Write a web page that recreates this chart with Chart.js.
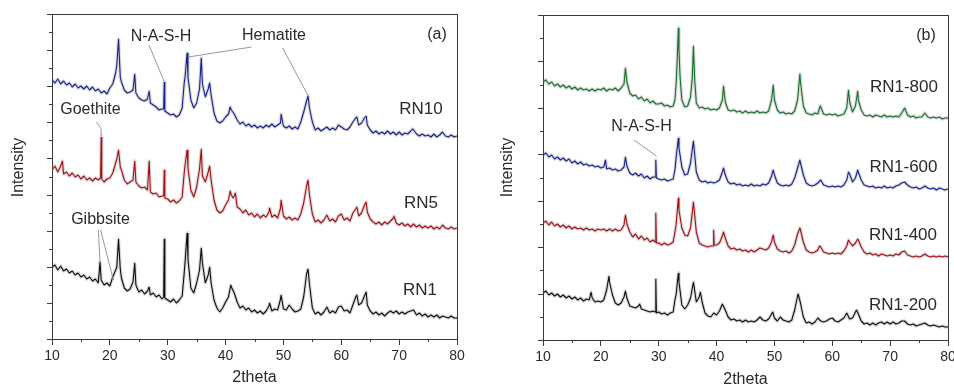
<!DOCTYPE html>
<html><head><meta charset="utf-8">
<script src="https://cdn.jsdelivr.net/npm/chart.js@4.4.1/dist/chart.umd.min.js"></script>
<style>
html,body{margin:0;padding:0;background:#fff;}
#wrap{position:relative;width:954px;height:389px;overflow:hidden;background:#fff;}
.box{position:absolute;top:0;width:477px;height:389px;}
#ba{left:0;} #bb{left:477px;}
</style></head><body>
<div id="wrap"><div class="box" id="ba"><canvas id="ca" width="477" height="389"></canvas></div><div class="box" id="bb"><canvas id="cb" width="477" height="389"></canvas></div></div>
<script>
// ---------- shared axis data ----------
const X_START = 10, X_STEP = 0.5;          // sampling grid of the base arrays (2theta)
const xTicks = [10, 20, 30, 40, 50, 60, 70, 80];
const xTickLabels = ['10', '20', '30', '40', '50', '60', '70', '80'];
const xMinorTicks = [15, 25, 35, 45, 55, 65, 75];

// ---------- panel (a) : intensity (a.u., stacked) ----------
const rn10Base = [
259,256,260,255,258,254,256,252,255,251,253,250,253,249,252,248,250,246,248,245,
251,255,266,270,257,249,246,247,249,246,241,239,238,240,236,234,232,229,230,228,
226,224,225,222,224,231,262,262,239,231,236,250,255,242,250,244,226,218,216,218,
222,225,229,225,219,215,217,213,215,212,214,211,213,211,214,212,215,212,214,216,
213,211,213,210,212,210,217,227,238,231,217,209,211,208,210,212,209,211,209,214,
212,210,209,212,217,221,214,216,221,214,209,206,208,205,207,205,208,205,207,204,
207,204,206,205,208,209,205,203,205,203,204,202,205,202,204,207,203,202,204,202,
203];
const rn10Peaks = [[21.2,274],[21.5,300],[21.8,262],[24.3,265],[26.8,248],[29.3,230],[29.4,257],[32.85,256],[33.35,286],[35.8,281],[37.25,256],[40.8,232],[49.6,225],[54.25,243],[62.7,222],[64.3,223],[72.3,210]];

const rn5Base = [
169,173,167,173,165,167,163,166,162,164,160,163,159,161,158,161,159,159,157,160,
161,166,176,181,169,159,155,157,159,157,153,151,152,149,147,145,146,142,143,141,
140,137,139,136,138,142,174,171,149,142,152,170,163,157,167,159,139,129,126,128,
134,139,144,143,132,130,126,129,124,126,122,125,121,124,122,127,122,124,121,131,
123,120,122,119,121,119,125,136,153,144,125,117,119,116,119,124,118,120,117,123,
125,119,121,118,126,130,123,126,134,127,120,117,115,117,114,117,115,118,121,116,
114,116,113,115,112,115,112,114,111,113,111,113,110,112,110,114,111,110,112,110,
111];
const rn5Peaks = [[11.8,178],[18.4,161],[18.5,202],[18.6,160],[21.2,180],[21.5,189],[21.8,172],[24.3,178],[26.8,178],[29.3,143],[29.4,169],[32.85,166],[33.35,189],[35.8,190],[37.25,173],[40.8,148],[41.3,141],[41.7,146],[47.6,131],[49.6,139],[54.25,159],[62.7,132],[64.3,137],[69.1,123]];

const rn1Base = [
72,74,69,73,68,70,66,68,64,66,62,64,60,62,58,60,56,59,54,56,
53,62,69,84,61,51,48,50,57,54,47,49,45,48,44,46,42,44,40,41,
39,37,40,36,39,43,77,80,51,46,56,69,76,56,64,56,39,31,27,31,
37,42,52,46,37,31,33,29,31,27,29,26,28,25,28,33,28,30,29,40,
30,29,34,30,27,28,30,42,65,55,31,25,27,24,27,32,26,28,26,32,
33,28,29,26,34,42,34,36,43,34,28,25,27,24,26,23,26,28,26,28,
25,27,25,27,28,29,24,26,23,25,22,24,22,24,21,23,22,21,23,21,
21];
const rn1Peaks = [[18.3,77],[21.2,72],[21.5,100],[21.8,70],[24.3,76],[26.8,52],[29.3,42],[29.4,100],[32.85,66],[33.35,106],[35.8,91],[37.25,72],[40.9,54],[47.6,36],[49.6,44],[54.25,70],[62.7,44],[64.3,47]];

// ---------- panel (b) ----------
const rn800Base = [
258,260,256,258,254,256,253,255,252,254,251,253,250,252,250,251,249,251,249,251,
250,252,249,251,250,252,249,252,256,258,247,244,245,241,243,239,241,237,239,236,
236,237,234,235,233,234,255,290,240,233,234,243,270,237,232,233,231,232,230,231,
230,232,240,238,230,229,230,228,229,227,229,227,228,227,229,227,228,227,229,240,
240,230,227,228,226,227,226,229,240,258,234,227,226,225,227,226,233,226,225,226,
225,226,224,225,226,232,238,228,234,240,230,225,224,225,223,225,224,223,225,223,
224,223,224,223,227,232,225,223,224,222,223,223,227,223,222,223,222,223,221,222,
222];
const rn800Peaks = [[24.25,272],[32.8,240],[33.2,280],[33.4,312],[33.7,262],[35.8,262],[36.0,294],[36.2,262],[41.2,254],[49.8,255],[54.4,266],[57.9,234],[62.8,250],[64.4,249]];

const rn600Base = [
185,187,183,185,181,183,180,182,179,181,177,179,176,178,175,176,174,175,173,174,
172,173,171,172,170,171,169,170,173,174,167,165,167,164,166,162,164,161,163,166,
161,160,161,159,160,161,182,192,173,165,166,177,195,168,160,158,159,157,158,157,
158,160,168,165,158,156,157,155,156,154,155,154,156,154,155,154,156,155,157,164,
165,157,155,154,155,154,156,162,172,177,165,157,155,154,155,157,160,155,154,153,
154,153,154,153,155,160,166,158,162,168,160,155,154,153,154,152,153,152,154,152,
153,152,154,155,157,158,155,153,152,153,151,152,154,152,151,152,150,152,151,150,
151];
const rn600Peaks = [[20.8,180],[24.25,183],[29.4,163],[29.5,180],[29.6,162],[32.8,170],[33.4,202],[36.0,199],[41.2,172],[49.8,170],[54.4,180],[62.8,168],[64.4,170]];

const rn400Base = [
117,119,115,118,114,116,113,115,112,114,111,113,111,112,110,112,110,111,109,111,
110,111,109,111,109,111,109,110,115,116,108,103,106,101,104,100,102,98,100,97,
97,95,97,95,96,98,115,130,112,105,104,112,132,108,97,95,94,93,94,95,
95,97,104,102,94,91,92,90,91,89,90,88,90,88,90,92,91,90,92,98,
98,91,89,88,89,87,89,95,106,110,98,90,88,87,88,90,93,88,87,86,
87,86,87,86,89,94,98,94,97,100,93,88,86,87,85,86,84,86,85,84,
85,84,86,85,88,89,85,84,83,84,83,84,86,84,83,84,83,84,83,84,
83];
const rn400Peaks = [[24.25,125],[29.4,98],[29.5,127],[29.6,97],[32.8,108],[33.4,142],[36.0,138],[39.4,94],[39.5,110],[39.6,95],[41.2,108],[49.8,105],[54.4,112],[57.8,94],[62.8,100],[64.4,101]];

const rn200Base = [
47,49,45,47,44,46,43,45,42,44,41,43,40,42,39,41,40,42,38,39,
38,40,50,58,45,37,35,37,43,42,34,33,32,34,31,30,29,28,29,27,
28,26,27,25,27,28,45,58,35,31,35,42,55,38,43,38,27,24,23,27,
25,29,36,30,23,20,21,19,20,18,20,18,19,18,20,23,20,19,21,26,
22,19,23,20,19,18,20,30,44,37,23,17,18,16,18,22,19,18,19,21,
22,19,18,20,22,27,21,22,28,26,19,16,17,15,17,15,17,18,16,18,
16,18,16,17,19,19,16,15,16,14,15,16,17,15,14,15,14,13,14,13,
13];
const rn200Peaks = [[18.3,48],[21.4,64],[24.25,49],[26.7,36],[29.4,28],[29.5,61],[29.6,27],[32.8,40],[33.4,67],[36.0,58],[37.2,48],[49.7,28],[54.1,46],[64.2,30]];

// ---------- helpers ----------
function series(base, peaks) {
  const keys = new Set(peaks.map(p => p[0].toFixed(2)));
  const pts = [];
  base.forEach((v, i) => {
    const x = X_START + i * X_STEP;
    if (!keys.has(x.toFixed(2))) pts.push({x: x, y: v});
  });
  peaks.forEach(p => pts.push({x: p[0], y: p[1]}));
  pts.sort((a, b) => a.x - b.x);
  return pts;
}
const FONT = '"Liberation Sans", Arial, Helvetica, sans-serif';
Chart.defaults.font.family = FONT;

const decor = {
  id: 'decor',
  afterDraw(chart, args, o) {
    const {ctx, chartArea: a, scales: {x, y}} = chart;
    const seg = (x1, y1, x2, y2) => { ctx.beginPath(); ctx.moveTo(x1, y1); ctx.lineTo(x2, y2); ctx.stroke(); };
    ctx.save();
    ctx.strokeStyle = '#3a3a3a'; ctx.lineWidth = 1;
    seg(a.left, a.top + 0.5, a.right + 0.5, a.top + 0.5);
    seg(a.right + 0.5, a.top, a.right + 0.5, a.bottom);
    const n = o.yMajor * 2;
    for (let i = 0; i <= n; i++) {
      const v = y.min + (y.max - y.min) * i / n;
      const py = Math.round(y.getPixelForValue(v)) + 0.5;
      const len = i % 2 === 0 ? 5 : 3;
      seg(a.left - len, py, a.left, py);
    }
    xMinorTicks.forEach(v => {
      const px = Math.round(x.getPixelForValue(v)) + 0.5;
      seg(px, a.bottom, px, a.bottom + 3);
    });
    ctx.strokeStyle = '#8c8c8c'; ctx.lineWidth = 0.9;
    o.leaders.forEach(pts => {
      ctx.beginPath();
      pts.forEach((p, i) => {
        const X = x.getPixelForValue(p[0]), Y = y.getPixelForValue(p[1]);
        if (i) ctx.lineTo(X, Y); else ctx.moveTo(X, Y);
      });
      ctx.stroke();
    });
    ctx.fillStyle = '#2a2a2a'; ctx.textAlign = 'center'; ctx.textBaseline = 'middle';
    o.labels.forEach(l => {
      ctx.font = l.size + 'px ' + FONT;
      ctx.fillText(l.text, x.getPixelForValue(l.x), y.getPixelForValue(l.y));
    });
    ctx.save();
    ctx.translate(o.yTitleX, (a.top + a.bottom) / 2 + o.yTitleDy);
    ctx.rotate(-Math.PI / 2);
    ctx.font = '16px ' + FONT;
    ctx.fillText('Intensity', 0, 0);
    ctx.restore();
    ctx.restore();
  }
};

function build(id, list, pad, yW, xH, titlePadBottom, deco) {
  const ds = [];
  // coloured traces first (drawn on top), grey halo traces after (drawn underneath)
  list.forEach(s => ds.push({data: s.data, borderColor: s.color, borderWidth: 1.1, borderJoinStyle: 'bevel', pointRadius: 0, tension: 0}));
  list.forEach(s => ds.push({data: s.data, borderColor: 'rgba(130,130,130,0.3)', borderWidth: 3.4, borderJoinStyle: 'round', pointRadius: 0, tension: 0}));
  return new Chart(document.getElementById(id), {
    type: 'line',
    data: {datasets: ds},
    plugins: [decor],
    options: {
      responsive: false, animation: false, events: [],
      layout: {padding: pad},
      plugins: {legend: {display: false}, tooltip: {enabled: false}, decor: deco},
      scales: {
        x: {
          type: 'linear', min: 10, max: 80,
          afterBuildTicks: s => { s.ticks = xTicks.map(v => ({value: v})); },
          afterFit: s => { s.height = xH; s.paddingLeft = 0; s.paddingRight = 0; },
          ticks: {color: '#2a2a2a', font: {size: 14}, padding: 3, maxRotation: 0,
                  callback: (v, i) => xTickLabels[i]},
          grid: {display: true, drawOnChartArea: false, drawTicks: true, tickLength: 6, tickColor: '#3a3a3a'},
          border: {display: true, color: '#3a3a3a', width: 1},
          title: {display: true, text: '2theta', color: '#2a2a2a', font: {size: 16}, padding: {top: 0, bottom: titlePadBottom}}
        },
        y: {
          type: 'linear', min: 0, max: 325,
          afterFit: s => { s.width = yW; s.paddingTop = 0; s.paddingBottom = 0; },
          ticks: {display: false},
          grid: {display: false},
          border: {display: true, color: '#3a3a3a', width: 1}
        }
      }
    }
  });
}

build('ca', [
  {data: series(rn10Base, rn10Peaks), color: '#16208c'},
  {data: series(rn5Base, rn5Peaks), color: '#a80c12'},
  {data: series(rn1Base, rn1Peaks), color: '#0d0d0d'}
], {left: 0, right: 20, top: 14, bottom: 0}, 52, 50, 2, {
  yMajor: 9, yTitleX: 18.5, yTitleDy: -9,
  leaders: [
    [[26.76, 294], [29.36, 258]],
    [[44.5, 292], [33.56, 282]],
    [[49.87, 291], [54.3, 243]],
    [[17.7, 217], [18.5, 210], [18.5, 203]],
    [[18.0, 109], [18.3, 77]],
    [[18.4, 109], [20.6, 59]]
  ],
  labels: [
    {text: 'N-A-S-H', x: 28.84, y: 302, size: 16},
    {text: 'Hematite', x: 48.37, y: 303, size: 16},
    {text: '(a)', x: 76.54, y: 304, size: 16},
    {text: 'RN10', x: 73.77, y: 230, size: 17},
    {text: 'Goethite', x: 16.65, y: 229, size: 16},
    {text: 'RN5', x: 73.77, y: 136, size: 17},
    {text: 'Gibbsite', x: 18.38, y: 119, size: 16},
    {text: 'RN1', x: 73.6, y: 49, size: 17}
  ]
});

build('cb', [
  {data: series(rn800Base, rn800Peaks), color: '#15702a'},
  {data: series(rn600Base, rn600Peaks), color: '#16208c'},
  {data: series(rn400Base, rn400Peaks), color: '#a80c12'},
  {data: series(rn200Base, rn200Peaks), color: '#0d0d0d'}
], {left: 0, right: 6, top: 15, bottom: 0}, 66, 49, 0, {
  yMajor: 7, yTitleX: 31, yTitleDy: -10,
  leaders: [
    [[25.73, 200], [29.6, 184]]
  ],
  labels: [
    {text: '(b)', x: 76.19, y: 304, size: 16},
    {text: 'RN1-800', x: 72.39, y: 253, size: 17},
    {text: 'N-A-S-H', x: 27.02, y: 213, size: 16},
    {text: 'RN1-600', x: 72.31, y: 173, size: 17},
    {text: 'RN1-400', x: 72.22, y: 105, size: 17},
    {text: 'RN1-200', x: 72.22, y: 35, size: 17}
  ]
});
</script>
</body></html>
